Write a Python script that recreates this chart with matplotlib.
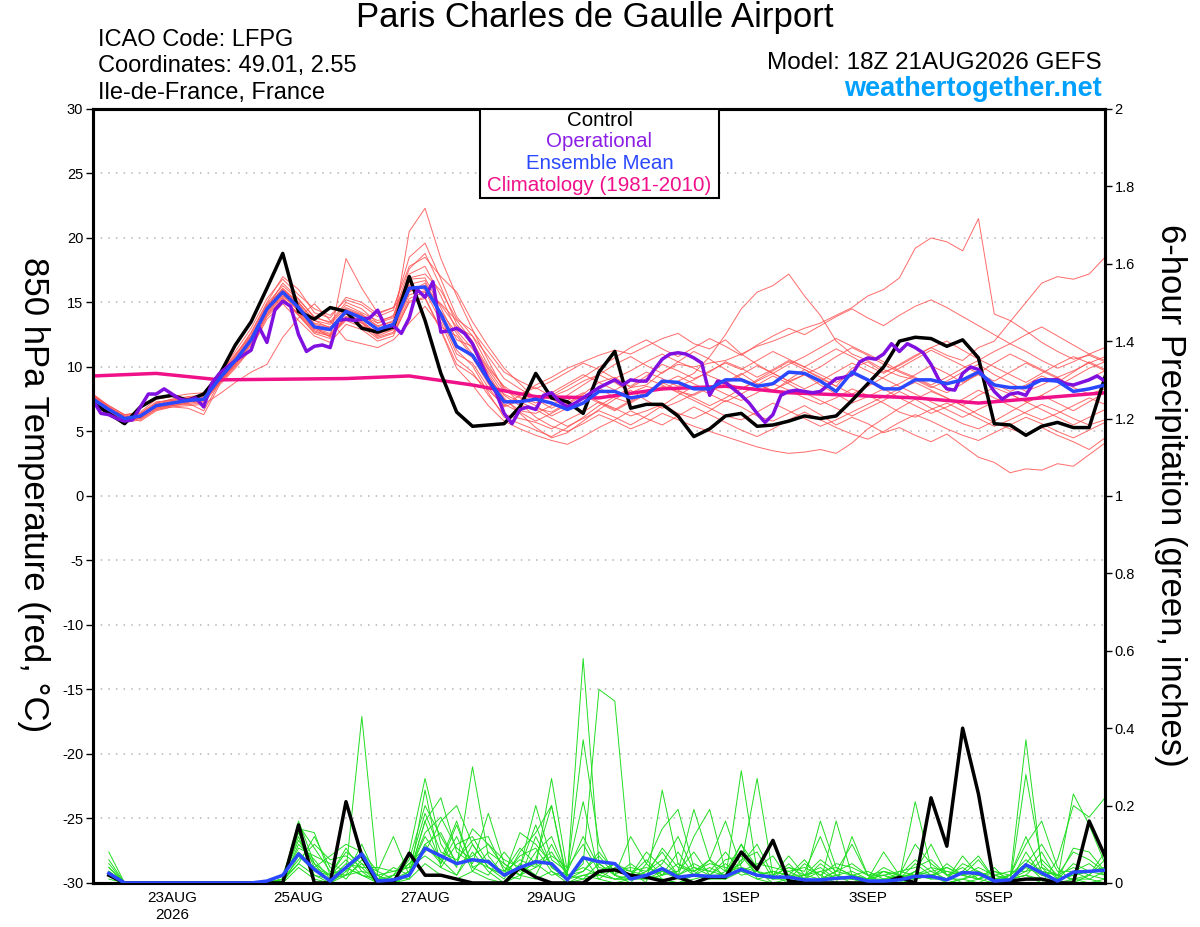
# GEFS ensemble meteogram - 850 hPa temperature and 6-hour precipitation, LFPG

import numpy as np
import pandas as pd
import matplotlib
matplotlib.use('Agg')
import matplotlib.pyplot as plt
from matplotlib.patches import Rectangle

plt.rcParams['font.family'] = ['Liberation Sans', 'DejaVu Sans']

# time axes
times = pd.date_range('2026-08-21 18:00', periods=65, freq='6h')
times_op = pd.date_range('2026-08-21 18:00', periods=129, freq='3h')
times_clim = pd.date_range('2026-08-21 18:00', periods=17, freq='1D')
times_pcp = pd.date_range('2026-08-22 00:00', periods=64, freq='6h')

tick_dates = pd.to_datetime(['2026-08-23', '2026-08-25', '2026-08-27', '2026-08-29',
                             '2026-09-01', '2026-09-03', '2026-09-05'])
tick_labels = ['23AUG\n2026', '25AUG', '27AUG', '29AUG', '1SEP', '3SEP', '5SEP']

# 850 hPa temperature (C)
control_t = [7.2, 6.4, 5.6, 6.9, 7.6, 7.8, 7.4, 7.9, 9.4, 11.7, 13.5, 16.1, 18.8,
             14.3, 13.7, 14.6, 14.3, 13.0, 12.7, 13.1, 17.0, 13.6, 9.5, 6.5, 5.4, 5.5,
             5.6, 6.9, 9.5, 7.6, 7.3, 6.4, 9.6, 11.2, 6.8, 7.1, 7.1, 6.2, 4.6,
             5.2, 6.2, 6.4, 5.4, 5.5, 5.8, 6.2, 6.0, 6.2, 7.4, 8.7, 10.0, 12.0,
             12.3, 12.2, 11.6, 12.1, 10.7, 5.6, 5.5, 4.7, 5.4, 5.7, 5.3, 5.3, 9.2]

mean_t = [7.5, 6.7, 6.0, 6.2, 7.0, 7.2, 7.4, 7.5, 9.1, 10.5, 12.1, 14.5, 15.8,
          14.6, 13.1, 12.9, 14.3, 13.8, 12.9, 13.3, 16.1, 16.2, 14.1, 11.6, 10.9, 9.0,
          7.3, 7.3, 7.5, 7.2, 6.7, 7.2, 8.1, 8.1, 7.6, 7.8, 8.9, 8.8, 8.3,
          8.3, 9.0, 9.0, 8.5, 8.7, 9.6, 9.5, 8.9, 8.1, 9.6, 9.0, 8.3, 8.3,
          9.0, 9.0, 8.7, 9.0, 9.6, 8.6, 8.4, 8.4, 9.0, 8.9, 8.1, 8.3, 8.6]

oper_t = [7.4, 6.4, 6.3, 6.0, 5.8, 5.9, 6.9, 7.9, 7.9, 8.3,
          7.9, 7.5, 7.4, 7.6, 6.9, 8.7, 9.5, 10.0, 10.5, 10.9,
          11.3, 13.1, 11.9, 14.4, 15.1, 14.7, 12.5, 11.2, 11.6, 11.7,
          11.5, 13.6, 13.7, 13.6, 13.7, 13.8, 14.4, 13.1, 13.2, 12.6,
          13.8, 16.0, 15.4, 16.6, 12.7, 12.8, 13.0, 12.6, 11.8, 10.4,
          9.0, 8.0, 6.4, 5.6, 6.7, 6.9, 6.7, 7.8, 8.0, 7.3,
          6.9, 7.2, 7.6, 8.0, 8.4, 8.7, 9.0, 8.6, 9.0, 8.9,
          8.9, 9.8, 10.6, 11.0, 11.1, 11.0, 10.7, 10.3, 7.8, 8.9,
          8.8, 8.3, 7.8, 7.2, 6.4, 5.7, 6.3, 7.8, 8.1, 8.2,
          8.1, 8.0, 8.1, 8.6, 9.1, 9.2, 9.4, 10.4, 10.7, 10.6,
          11.0, 11.8, 11.2, 11.8, 11.5, 11.1, 10.2, 9.0, 8.3, 8.2,
          9.5, 10.0, 9.8, 9.0, 8.1, 7.5, 7.9, 8.0, 7.8, 8.8,
          9.0, 9.0, 9.0, 8.7, 8.6, 8.8, 9.0, 9.3, 8.9]

clim_t = [9.3, 9.5, 9.0, 9.05, 9.1, 9.3, 8.6, 7.7, 7.6, 8.3, 8.5, 8.0, 7.8, 7.6, 7.2, 7.6, 8.0]

# ensemble members (temperature)
m01 = [7.8, 6.9, 6.1, 6.0, 7.2, 7.5, 7.6, 7.7, 9.3, 10.8, 12.6, 14.9, 16.3,
       15.2, 13.9, 13.4, 14.8, 14.2, 13.6, 13.9, 17.2, 17.8, 15.5, 12.8, 11.4, 9.6,
       7.8, 7.0, 6.8, 6.5, 7.2, 7.9, 8.8, 9.2, 8.4, 8.6, 9.6, 10.2, 10.0,
       10.3, 10.5, 11.0, 11.6, 12.0, 12.5, 13.0, 13.4, 14.0, 14.6, 15.5, 16.0, 16.9,
       19.2, 20.0, 19.7, 19.0, 21.5, 14.1, 13.6, 12.8, 11.9, 11.2, 10.6, 10.9, 10.4]
m02 = [7.2, 6.4, 5.8, 6.3, 6.8, 7.0, 7.2, 7.3, 8.8, 10.2, 11.8, 14.2, 15.4,
       14.0, 12.6, 12.2, 13.9, 13.5, 12.4, 12.9, 15.8, 16.5, 13.8, 11.0, 10.3, 8.4,
       6.9, 7.4, 7.8, 7.5, 6.9, 7.5, 8.4, 7.6, 7.2, 7.9, 8.5, 8.1, 7.8,
       8.4, 8.8, 9.5, 8.7, 8.1, 9.0, 9.8, 9.2, 8.5, 9.9, 10.4, 9.6, 10.1,
       10.8, 11.5, 10.9, 10.5, 11.5, 12.0, 13.5, 15.0, 16.5, 17.0, 16.8, 17.2, 18.5]
m03 = [7.6, 6.8, 6.2, 6.4, 7.3, 7.4, 7.6, 7.8, 9.5, 11.0, 12.4, 14.8, 16.0,
       14.9, 13.3, 13.0, 14.4, 14.0, 13.2, 13.5, 16.8, 16.9, 14.6, 12.1, 11.6, 9.8,
       8.1, 7.9, 8.4, 7.7, 8.2, 8.9, 9.4, 8.8, 8.0, 8.5, 8.2, 8.9, 9.5,
       10.8, 12.5, 14.5, 15.8, 16.3, 17.2, 15.5, 14.0, 12.0, 11.0, 10.5, 9.8, 9.3,
       9.0, 8.4, 8.9, 9.6, 10.2, 9.4, 8.8, 8.1, 8.6, 9.2, 8.4, 7.9, 8.3]
m04 = [7.4, 6.5, 5.9, 6.0, 6.9, 7.0, 7.1, 7.2, 8.7, 10.0, 11.5, 13.9, 15.1,
       14.2, 12.9, 12.5, 13.8, 13.2, 12.6, 12.9, 15.6, 15.9, 13.5, 10.6, 9.6, 7.8,
       6.3, 6.0, 5.7, 5.2, 5.9, 6.5, 7.3, 6.8, 6.2, 6.6, 7.1, 6.4, 6.0,
       6.6, 7.4, 6.9, 6.2, 5.8, 6.4, 7.0, 6.3, 5.5, 6.1, 5.6, 4.9, 5.3,
       4.7, 4.2, 4.8, 3.9, 3.0, 2.6, 1.8, 2.1, 2.0, 2.5, 2.3, 3.2, 4.1]
m05 = [7.9, 7.0, 6.3, 6.5, 7.5, 7.7, 7.9, 8.0, 9.6, 11.2, 13.0, 15.3, 16.8,
       15.6, 14.5, 14.0, 15.2, 14.8, 13.9, 14.4, 18.5, 19.6, 16.8, 13.9, 12.4, 10.1,
       8.4, 7.2, 6.1, 5.4, 5.0, 5.6, 6.3, 5.8, 5.2, 5.7, 6.4, 5.9, 5.4,
       5.0, 4.6, 4.2, 3.8, 3.5, 3.3, 3.4, 3.6, 3.3, 4.1, 5.2, 6.0, 6.8,
       7.5, 8.1, 7.6, 7.0, 7.8, 8.4, 7.9, 7.3, 7.8, 8.5, 9.2, 9.9, 10.4]
m06 = [7.3, 6.6, 6.0, 6.1, 6.8, 7.1, 7.3, 7.4, 8.9, 10.3, 12.0, 14.3, 15.6,
       14.3, 13.0, 12.8, 14.1, 13.6, 12.5, 13.2, 20.5, 22.3, 18.4, 15.5, 12.9, 10.5,
       8.2, 7.6, 7.0, 6.2, 6.8, 7.6, 8.3, 9.0, 8.5, 9.3, 10.2, 9.7, 9.1,
       9.6, 10.4, 9.9, 9.2, 9.8, 10.5, 10.0, 9.4, 8.8, 9.5, 8.9, 8.2, 8.7,
       9.4, 10.1, 9.5, 8.8, 9.4, 8.7, 8.1, 8.6, 9.3, 8.8, 9.6, 10.4, 9.8]
m07 = [7.7, 6.9, 6.2, 5.8, 6.6, 6.9, 7.0, 7.1, 7.9, 8.8, 9.6, 10.2, 12.3,
       13.8, 14.9, 13.6, 12.1, 11.8, 11.5, 12.1, 13.4, 14.7, 13.1, 12.4, 10.8, 9.2,
       7.6, 6.4, 5.3, 4.5, 4.9, 5.8, 6.7, 7.5, 8.2, 7.4, 6.8, 7.3, 7.9,
       8.5, 7.9, 7.4, 8.0, 8.7, 8.2, 7.6, 7.1, 7.6, 8.3, 7.8, 7.2, 6.5,
       6.1, 6.7, 7.2, 6.6, 6.0, 5.4, 5.9, 6.5, 7.1, 6.6, 6.0, 5.5, 5.9]
m08 = [7.5, 6.7, 6.1, 6.3, 7.1, 7.3, 7.5, 7.6, 9.2, 10.6, 12.3, 14.6, 15.9,
       14.8, 13.1, 12.3, 18.4, 16.1, 14.2, 14.6, 16.3, 16.0, 14.9, 13.6, 12.0, 9.4,
       7.5, 6.6, 6.4, 7.0, 7.8, 8.6, 9.4, 10.2, 10.8, 10.1, 9.5, 10.4, 11.2,
       10.6, 9.8, 9.1, 8.6, 8.2, 8.8, 9.4, 10.0, 10.8, 11.5, 10.9, 10.2, 9.6,
       9.1, 8.5, 8.0, 8.7, 9.5, 10.3, 11.0, 10.4, 9.8, 9.2, 9.7, 10.3, 10.8]
m09 = [7.1, 6.3, 5.7, 5.9, 6.7, 6.9, 6.8, 6.3, 8.6, 9.9, 11.4, 13.7, 14.9,
       13.6, 12.4, 11.9, 13.3, 12.9, 12.0, 12.4, 15.1, 15.4, 12.9, 10.2, 9.4, 8.2,
       7.0, 7.8, 8.6, 9.2, 9.9, 10.4, 10.9, 11.3, 11.0, 11.6, 12.2, 12.6, 11.8,
       11.4, 12.1, 11.0, 10.2, 9.5, 8.9, 9.4, 8.6, 7.9, 7.2, 7.7, 8.3, 7.6,
       7.0, 6.4, 6.9, 7.5, 8.2, 7.6, 7.0, 6.4, 5.9, 6.4, 7.0, 7.6, 7.1]
m10 = [7.6, 6.8, 6.0, 6.2, 7.0, 7.3, 7.4, 7.5, 9.0, 10.4, 12.2, 14.7, 16.1,
       15.0, 13.6, 13.3, 14.6, 14.1, 13.1, 13.6, 16.4, 16.7, 14.0, 11.3, 10.1, 8.0,
       6.1, 5.6, 5.1, 4.6, 5.3, 6.1, 7.0, 7.7, 8.4, 9.1, 8.6, 8.0, 7.4,
       6.8, 6.2, 5.9, 6.5, 7.2, 6.6, 6.0, 5.4, 5.9, 6.5, 7.1, 7.7, 8.3,
       8.8, 8.2, 7.6, 7.0, 6.3, 5.7, 5.2, 4.8, 5.3, 4.7, 4.2, 3.6, 4.5]
m11 = [7.4, 6.6, 5.9, 6.1, 6.9, 7.1, 7.3, 7.4, 9.0, 10.5, 12.1, 14.4, 15.8,
       14.6, 13.4, 13.1, 14.3, 13.9, 12.8, 13.2, 16.0, 16.3, 14.8, 13.1, 12.4, 10.8,
       9.1, 8.3, 7.6, 8.0, 8.7, 9.4, 8.8, 8.2, 8.9, 9.6, 9.1, 8.5, 9.0,
       9.7, 10.3, 9.8, 10.5, 11.2, 10.6, 10.0, 10.7, 11.4, 10.8, 10.1, 9.5, 10.2,
       10.9, 11.5, 12.0, 11.3, 10.6, 10.0, 9.4, 8.8, 9.5, 10.2, 10.8, 10.3, 9.7]
m12 = [7.3, 6.5, 5.8, 6.0, 6.7, 7.0, 7.2, 6.6, 8.8, 10.1, 11.7, 14.0, 15.3,
       14.1, 12.8, 12.4, 13.7, 13.4, 12.3, 12.7, 15.3, 15.8, 14.3, 12.6, 11.0, 9.0,
       7.9, 7.3, 6.7, 6.0, 5.4, 6.0, 6.6, 6.1, 5.5, 6.2, 7.0, 7.8, 8.5,
       7.9, 7.3, 7.9, 8.6, 9.3, 8.7, 8.0, 7.4, 6.8, 6.2, 6.8, 7.4, 8.1,
       7.5, 6.8, 6.2, 5.6, 5.2, 5.8, 6.5, 7.2, 7.8, 7.2, 6.6, 7.3, 8.0]
m13 = [7.7, 6.8, 6.1, 6.2, 7.1, 7.4, 7.5, 7.6, 9.2, 10.7, 12.4, 14.6, 16.0,
       15.0, 13.6, 13.0, 14.5, 14.0, 13.4, 13.8, 16.9, 17.2, 15.9, 13.7, 12.8, 11.2,
       9.6, 8.9, 8.3, 8.9, 9.6, 10.3, 9.8, 9.1, 9.7, 10.4, 11.0, 10.4, 9.9,
       9.3, 8.8, 8.3, 8.9, 9.5, 10.2, 10.8, 11.5, 12.2, 11.6, 11.0, 10.4, 9.7,
       9.2, 8.6, 9.2, 9.9, 10.5, 11.2, 11.8, 11.2, 10.5, 9.9, 10.4, 11.0, 10.5]
m14 = [7.5, 6.6, 5.9, 6.2, 6.9, 7.2, 7.4, 7.5, 9.0, 10.3, 12.0, 14.3, 15.5,
       14.4, 13.0, 12.6, 13.9, 13.4, 12.7, 13.1, 15.9, 16.2, 14.2, 11.7, 10.7, 8.7,
       7.1, 6.5, 5.8, 6.4, 7.1, 7.8, 7.2, 6.6, 7.3, 8.0, 8.7, 9.3, 8.7,
       8.1, 8.7, 9.4, 10.1, 9.5, 8.9, 8.3, 8.9, 9.6, 10.3, 9.7, 9.1, 8.5,
       7.9, 7.3, 6.7, 6.1, 6.7, 7.3, 7.9, 7.3, 6.7, 6.1, 5.5, 6.1, 6.7]
m15 = [7.6, 6.7, 6.0, 6.1, 7.0, 7.2, 7.3, 7.4, 8.9, 10.4, 12.2, 14.6, 16.5,
       15.3, 13.8, 13.5, 15.0, 14.5, 13.4, 14.0, 17.6, 18.8, 16.2, 13.3, 11.9, 9.9,
       8.5, 7.7, 7.2, 7.8, 8.5, 9.2, 10.0, 10.7, 11.5, 12.1, 11.4, 10.8, 11.5,
       12.2, 11.6, 10.9, 11.7, 12.4, 13.0, 12.5, 13.2, 13.9, 14.5, 13.8, 13.2, 14.0,
       14.7, 15.2, 14.6, 13.9, 13.2, 12.5, 11.8, 12.5, 13.1, 12.4, 11.7, 11.0, 11.5]
m16 = [7.2, 6.5, 5.9, 6.2, 7.0, 7.2, 7.3, 7.4, 8.8, 10.2, 11.9, 14.1, 15.2,
       14.0, 12.7, 12.4, 13.6, 13.1, 12.2, 12.6, 15.0, 15.3, 12.8, 9.9, 8.6, 7.0,
       5.8, 5.2, 4.7, 4.3, 4.0, 4.6, 5.3, 5.9, 6.6, 6.0, 5.5, 6.2, 6.9,
       6.3, 5.7, 5.1, 4.6, 5.2, 5.9, 6.5, 5.9, 5.3, 4.8, 4.4, 5.0, 5.7,
       6.3, 5.8, 5.2, 4.7, 4.3, 4.9, 5.5, 6.1, 5.6, 5.0, 4.5, 5.1, 5.7]
m17 = [7.8, 7.0, 6.3, 6.4, 7.2, 7.5, 7.7, 7.8, 9.4, 10.9, 12.7, 15.0, 17.0,
       16.0, 14.2, 13.8, 15.4, 15.0, 14.1, 14.6, 17.8, 18.5, 17.0, 15.8, 13.5, 11.6,
       9.9, 8.7, 7.5, 6.8, 7.4, 8.0, 7.3, 6.7, 7.4, 8.1, 8.8, 8.2, 7.6,
       7.0, 7.6, 8.3, 9.0, 9.7, 10.4, 9.8, 9.1, 8.5, 7.9, 8.5, 9.2, 9.9,
       10.6, 11.3, 10.7, 10.1, 9.5, 8.9, 9.6, 10.3, 9.7, 9.1, 8.5, 9.1, 9.7]
temp_members = [m01, m02, m03, m04, m05, m06, m07, m08, m09, m10,
                m11, m12, m13, m14, m15, m16, m17]

# 6-hour precipitation (inches)
control_p = [0.02, 0, 0, 0, 0, 0, 0, 0, 0, 0, 0, 0, 0.15, 0, 0, 0.21,
             0.07, 0, 0, 0.077, 0.02, 0.02, 0.01, 0, 0, 0, 0.04, 0.015, 0, 0, 0, 0.03,
             0.034, 0.02, 0.015, 0.005, 0.015, 0, 0.015, 0.015, 0.08, 0.035, 0.11, 0.005, 0, 0, 0, 0,
             0, 0, 0.015, 0, 0.22, 0.095, 0.40, 0.23, 0, 0.005, 0.01, 0.01, 0, 0, 0.16, 0.07]
mean_p = [0.025, 0, 0, 0, 0, 0, 0, 0, 0, 0, 0.005, 0.02, 0.075, 0.035, 0.005, 0.04,
          0.075, 0.005, 0.008, 0.02, 0.09, 0.07, 0.05, 0.06, 0.055, 0.02, 0.04, 0.055, 0.05, 0.008, 0.065, 0.055,
          0.05, 0.01, 0.02, 0.037, 0.015, 0.02, 0.017, 0.017, 0.035, 0.02, 0.015, 0.015, 0.008, 0.008, 0.012, 0.015,
          0.005, 0.005, 0.008, 0.017, 0.017, 0.008, 0.027, 0.025, 0.005, 0.008, 0.047, 0.026, 0.005, 0.028, 0.03, 0.033]

p01 = [0.08, 0, 0, 0, 0, 0, 0, 0, 0, 0, 0, 0.01, 0.16, 0.05, 0, 0.03,
       0.43, 0.02, 0, 0.03, 0.12, 0.06, 0.02, 0.08, 0.03, 0, 0.05, 0.02, 0.1, 0.02, 0.58, 0.05,
       0.02, 0, 0.05, 0.01, 0, 0.02, 0.06, 0.01, 0.29, 0.03, 0, 0, 0.01, 0, 0.02, 0.01,
       0, 0.03, 0.01, 0.21, 0.04, 0, 0.01, 0, 0.02, 0.01, 0.37, 0.04, 0, 0.03, 0.01, 0]
p02 = [0.05, 0, 0, 0, 0, 0, 0, 0, 0, 0, 0, 0.02, 0.14, 0.13, 0.02, 0.08,
       0.05, 0, 0.02, 0.08, 0.27, 0.1, 0.04, 0.3, 0.07, 0.02, 0.01, 0.12, 0.04, 0.01, 0.05, 0.5,
       0.47, 0.03, 0, 0.24, 0.05, 0.02, 0.01, 0.03, 0.05, 0.27, 0.02, 0, 0.01, 0, 0.16, 0.02,
       0.01, 0.02, 0, 0.03, 0.1, 0.02, 0, 0.01, 0, 0.02, 0.1, 0.16, 0.04, 0, 0.02, 0.01]
p03 = [0.03, 0, 0, 0, 0, 0, 0, 0, 0, 0, 0, 0.01, 0.08, 0.04, 0.07, 0.1,
       0.08, 0.03, 0.12, 0.02, 0.16, 0.22, 0.08, 0.05, 0.18, 0.05, 0.02, 0.04, 0.27, 0.03, 0.37, 0.1,
       0.02, 0.12, 0.05, 0.14, 0.19, 0.04, 0.02, 0.02, 0.1, 0.04, 0.07, 0.01, 0.05, 0.02, 0, 0.12,
       0.02, 0, 0.03, 0.02, 0.01, 0.05, 0.02, 0.06, 0.01, 0, 0.28, 0.05, 0.01, 0.23, 0.15, 0.05]
p04 = [0.02, 0, 0, 0, 0, 0, 0, 0, 0, 0, 0, 0.005, 0.05, 0.02, 0, 0.04,
       0.02, 0, 0.01, 0.05, 0.08, 0.16, 0.2, 0.1, 0.04, 0.01, 0.08, 0.13, 0.2, 0.01, 0.02, 0.03,
       0.01, 0.02, 0.06, 0.02, 0.03, 0.19, 0.06, 0.16, 0.04, 0.02, 0.01, 0.03, 0.01, 0.16, 0.04, 0.02,
       0.01, 0.08, 0.02, 0.01, 0.02, 0.01, 0.03, 0.07, 0.01, 0.01, 0.02, 0, 0.06, 0.2, 0.17, 0.22]
p05 = [0.04, 0, 0, 0, 0, 0, 0, 0, 0, 0, 0, 0.01, 0.12, 0.02, 0.01, 0.02,
       0.1, 0.01, 0, 0.02, 0.16, 0.05, 0.12, 0.03, 0.08, 0.05, 0.02, 0.06, 0.2, 0, 0.01, 0.02,
       0.01, 0.01, 0.03, 0.08, 0.02, 0.12, 0.19, 0.03, 0.1, 0.01, 0.02, 0.07, 0.02, 0.01, 0.03, 0.1,
       0.02, 0, 0.01, 0.05, 0.02, 0.04, 0.02, 0.01, 0.04, 0, 0.08, 0.02, 0.01, 0.09, 0.08, 0.03]
p06 = [0.02, 0, 0, 0, 0, 0, 0, 0, 0, 0, 0, 0.003, 0.1, 0.06, 0.01, 0.05,
       0.04, 0, 0.02, 0.01, 0.24, 0.04, 0.02, 0.1, 0.04, 0.02, 0.13, 0.1, 0.05, 0.01, 0.03, 0.07,
       0.02, 0.01, 0.02, 0.05, 0.12, 0.03, 0.01, 0.01, 0.06, 0.08, 0.01, 0.05, 0.01, 0.03, 0.01, 0.02,
       0.01, 0.02, 0.01, 0.02, 0.03, 0.01, 0.01, 0.02, 0.01, 0.01, 0.03, 0.04, 0.02, 0.01, 0.02, 0.08]
p07 = [0.03, 0, 0, 0, 0, 0, 0, 0, 0, 0, 0, 0.01, 0.15, 0.09, 0.03, 0.02,
       0.05, 0.03, 0.01, 0.06, 0.2, 0.12, 0.05, 0.14, 0.1, 0.06, 0.04, 0.2, 0.06, 0.03, 0.12, 0.04,
       0.03, 0.02, 0.08, 0.04, 0.02, 0.05, 0.03, 0.02, 0.05, 0.1, 0.02, 0.04, 0.03, 0.12, 0.02, 0.03,
       0.01, 0.04, 0.02, 0.1, 0.05, 0.02, 0.04, 0.01, 0.03, 0.02, 0.05, 0.1, 0.03, 0.03, 0.05, 0.02]
p08 = [0.01, 0, 0, 0, 0, 0, 0, 0, 0, 0, 0, 0, 0.07, 0.03, 0.02, 0.06,
       0.02, 0.01, 0.04, 0.02, 0.1, 0.05, 0.15, 0.04, 0.02, 0.08, 0.03, 0.05, 0.02, 0.03, 0.21, 0.02,
       0.01, 0.01, 0.01, 0.03, 0.01, 0.02, 0.02, 0.05, 0.02, 0.03, 0.01, 0.01, 0.02, 0.04, 0.01, 0.01,
       0, 0.01, 0.01, 0.03, 0.01, 0.01, 0.07, 0.02, 0.01, 0.01, 0.02, 0.01, 0.01, 0.02, 0.03, 0.04]
p09 = [0.03, 0, 0, 0, 0, 0, 0, 0, 0, 0, 0, 0.01, 0.05, 0.12, 0.04, 0.01,
       0.06, 0.02, 0.03, 0.04, 0.18, 0.08, 0.06, 0.11, 0.12, 0.03, 0.09, 0.05, 0.08, 0.02, 0.04, 0.02,
       0.05, 0.02, 0.01, 0.02, 0.08, 0.02, 0.04, 0.02, 0.08, 0.02, 0.03, 0.02, 0.01, 0.05, 0.02, 0.01,
       0.01, 0.01, 0.02, 0.01, 0.02, 0.03, 0.02, 0.04, 0.02, 0.01, 0.02, 0.06, 0.02, 0.01, 0.01, 0.03]
p10 = [0.02, 0, 0, 0, 0, 0, 0, 0, 0, 0, 0, 0.01, 0.09, 0.07, 0.05, 0.03,
       0.07, 0.01, 0.01, 0.03, 0.13, 0.17, 0.09, 0.06, 0.04, 0.02, 0.07, 0.09, 0.03, 0.01, 0.07, 0.01,
       0.04, 0.03, 0.02, 0.09, 0.04, 0.03, 0.05, 0.04, 0.03, 0.05, 0.04, 0.03, 0.04, 0.02, 0.05, 0.04,
       0.02, 0.02, 0.03, 0.04, 0.06, 0.02, 0.03, 0.02, 0.03, 0.01, 0.04, 0.02, 0.01, 0.05, 0.03, 0.02]
p11 = [0.02, 0, 0, 0, 0, 0, 0, 0, 0, 0, 0, 0, 0.04, 0.01, 0, 0.02,
       0.03, 0, 0, 0.01, 0.05, 0.02, 0.01, 0.03, 0.01, 0, 0.02, 0.01, 0.03, 0, 0.02, 0.01,
       0, 0.01, 0.02, 0.01, 0, 0.01, 0.02, 0.01, 0.03, 0.01, 0, 0.01, 0, 0.01, 0.02, 0,
       0, 0.01, 0, 0.01, 0.02, 0, 0.01, 0.03, 0, 0, 0.05, 0.01, 0, 0.01, 0, 0.01]
p12 = [0.04, 0, 0, 0, 0, 0, 0, 0, 0, 0, 0, 0.01, 0.11, 0.05, 0.02, 0.09,
       0.03, 0.02, 0, 0.02, 0.1, 0.13, 0.05, 0.07, 0.1, 0.04, 0.02, 0.08, 0.12, 0.02, 0.01, 0.05,
       0.02, 0.05, 0.02, 0.03, 0.03, 0.08, 0.02, 0.06, 0.07, 0.02, 0.03, 0.02, 0.06, 0.01, 0.03, 0.02,
       0.03, 0.01, 0.01, 0.03, 0.02, 0.01, 0.05, 0.03, 0.01, 0.02, 0.12, 0.03, 0.02, 0.04, 0.02, 0.06]
p13 = [0.06, 0, 0, 0, 0, 0, 0, 0, 0, 0, 0, 0.01, 0.13, 0.04, 0.02, 0.04,
       0.02, 0.01, 0.02, 0.05, 0.09, 0.06, 0.16, 0.04, 0.06, 0.02, 0.04, 0.15, 0.04, 0.02, 0.03, 0.08,
       0.03, 0.04, 0.03, 0.06, 0.02, 0.04, 0.03, 0.08, 0.03, 0.02, 0.03, 0.02, 0.02, 0.03, 0.04, 0.02,
       0.01, 0.03, 0.02, 0.02, 0.04, 0.03, 0.02, 0.01, 0.02, 0.03, 0.03, 0.08, 0.01, 0.02, 0.03, 0.04]
p14 = [0.02, 0, 0, 0, 0, 0, 0, 0, 0, 0, 0, 0.01, 0.06, 0.1, 0.06, 0.07,
       0.04, 0.04, 0.03, 0.04, 0.07, 0.04, 0.1, 0.12, 0.05, 0.03, 0.06, 0.04, 0.07, 0.04, 0.1, 0.03,
       0.05, 0.03, 0.04, 0.02, 0.05, 0.03, 0.06, 0.03, 0.04, 0.03, 0.02, 0.04, 0.02, 0.06, 0.03, 0.05,
       0.02, 0.03, 0.02, 0.06, 0.03, 0.04, 0.02, 0.03, 0.01, 0.02, 0.06, 0.03, 0.02, 0.08, 0.06, 0.03]
precip_members = [p01, p02, p03, p04, p05, p06, p07, p08, p09, p10, p11, p12, p13, p14]

temp_ticks = list(range(-30, 31, 5))
precip_ticks = [0, 0.2, 0.4, 0.6, 0.8, 1, 1.2, 1.4, 1.6, 1.8, 2]
precip_tick_labels = ['0', '0.2', '0.4', '0.6', '0.8', '1', '1.2', '1.4', '1.6', '1.8', '2']

# colours
c_member_t = '#ff5050'
c_member_p = '#22dd22'
c_control = 'black'
c_oper = '#8010e0'
c_mean = '#2a48ff'
c_clim = '#f0108a'

fig = plt.figure(figsize=(12, 9.27), dpi=100)
ax = fig.add_axes([0.0775, 0.0475, 0.8433, 0.835])
ax2 = ax.twinx()

# temperature
for m in temp_members:
    ax.plot(times, m, color=c_member_t, lw=0.7, alpha=0.85, zorder=2)
ax.plot(times_clim, clim_t, color=c_clim, lw=2.5, zorder=4)
ax.plot(times, control_t, color=c_control, lw=2.5, zorder=5)
ax.plot(times_op, oper_t, color=c_oper, lw=2.5, zorder=6)
ax.plot(times, mean_t, color=c_mean, lw=2.5, zorder=7)

# precipitation
for p in precip_members:
    ax2.plot(times_pcp, p, color=c_member_p, lw=0.7, zorder=2)
ax2.plot(times_pcp, control_p, color=c_control, lw=2.5, zorder=5)
ax2.plot(times_pcp, mean_p, color=c_mean, lw=2.5, zorder=6)

ax.set_xlim(times[0], times[-1])
ax.set_ylim(-30, 30)
ax2.set_ylim(0, 2)

for yv in temp_ticks[1:-1]:
    ax.axhline(yv, color='#b4b4b4', lw=1.1, ls=(0, (1, 4)), zorder=1)

ax.set_yticks(temp_ticks)
ax.set_yticklabels([str(v) for v in temp_ticks])
ax2.set_yticks(precip_ticks)
ax2.set_yticklabels(precip_tick_labels)
ax.set_xticks(tick_dates)
ax.set_xticklabels(tick_labels)

ax.tick_params(axis='y', direction='out', length=5, width=1, labelsize=10.5, pad=2)
ax2.tick_params(axis='y', direction='out', length=5, width=1, labelsize=10.5, pad=2)
ax.tick_params(axis='x', length=0, labelsize=11, pad=6)
for a in (ax, ax2):
    for s in a.spines.values():
        s.set_linewidth(2.2)

# legend box
ax2.add_patch(Rectangle((0.3824, 0.885), 0.2362, 0.115, transform=ax2.transAxes,
                        facecolor='white', edgecolor='black', lw=1.5, zorder=10))
leg_items = [('Control', 'black'), ('Operational', '#8c1ee6'),
             ('Ensemble Mean', '#2a48ff'), ('Climatology (1981-2010)', '#f0108a')]
leg_y = [0.9845, 0.9574, 0.929, 0.9005]
for (txt, col), yy in zip(leg_items, leg_y):
    ax2.text(0.5005, yy, txt, color=col, fontsize=14.8, ha='center', va='center',
             transform=ax2.transAxes, zorder=11)

# header
fig.text(0.496, 1 - 18 / 927, 'Paris Charles de Gaulle Airport', ha='center', va='center', fontsize=25)
fig.text(98 / 1200, 1 - 40 / 927, 'ICAO Code: LFPG', ha='left', va='center', fontsize=17)
fig.text(98 / 1200, 1 - 66 / 927, 'Coordinates: 49.01, 2.55', ha='left', va='center', fontsize=17)
fig.text(98 / 1200, 1 - 93 / 927, 'Ile-de-France, France', ha='left', va='center', fontsize=17)
fig.text(1102 / 1200, 1 - 63 / 927, 'Model: 18Z 21AUG2026 GEFS', ha='right', va='center', fontsize=17.5)
fig.text(1102 / 1200, 1 - 89 / 927, 'weathertogether.net', ha='right', va='center', fontsize=19.5,
         fontweight='bold', color='#00a0ff')

fig.text(33 / 1200, 1 - 495 / 927, '850 hPa Temperature (red, °C)', rotation=270,
         ha='center', va='center', fontsize=25)
fig.text(1170 / 1200, 1 - 495 / 927, '6-hour Precipitation (green, inches)', rotation=270,
         ha='center', va='center', fontsize=25)

fig.savefig('out.png', dpi=100)
